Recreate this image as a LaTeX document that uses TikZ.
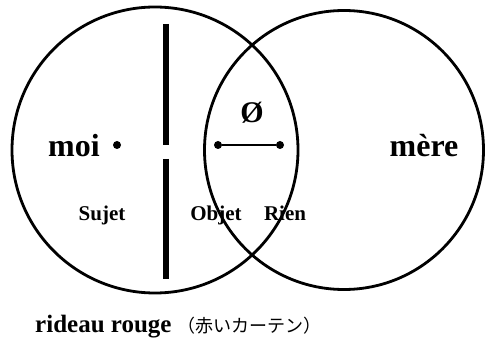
\documentclass[tikz,border=0pt]{standalone}
\usepackage{fontspec}
\setmainfont{Liberation Serif}
\newfontfamily\jpfont{Noto Sans CJK JP}
\usetikzlibrary{positioning}

\begin{document}
\begin{tikzpicture}[x=1pt,y=-1pt,
  ring/.style={line width=2.8pt},
  curtain/.style={line width=6pt},
  dot/.style={circle,fill,inner sep=0pt,minimum size=8pt},
  big/.style={font=\bfseries\fontsize{32}{32}\selectfont,inner sep=0pt,anchor=base},
  small/.style={font=\bfseries\fontsize{21}{21}\selectfont,inner sep=0pt,anchor=base}]
  \useasboundingbox (0,0) rectangle (485,339);
  \fill[white] (0,0) rectangle (485,339);

  % deux cercles
  \draw[ring] (155,150) circle[radius=143];
  \draw[ring] (344,150) circle[radius=139.5];

  % rideau
  \coordinate (r1) at (166,24);
  \coordinate (r2) at (166,145);
  \coordinate (r3) at (166,159);
  \coordinate (r4) at (166,279);
  \draw[curtain] (r1) -- (r2);
  \draw[curtain] (r3) -- (r4);

  % points
  \node[dot] (moidot) at (117,145) {};
  \node[dot] (objdot) at (218,145) {};
  \node[dot] (riendot) at (280,145) {};
  \draw[line width=1.5pt] (objdot) -- (riendot);

  % textes
  \node[big] (moi) at (74,157) {moi};
  \node[big] (mere) at (424,157) {mère};
  \node[big,font=\bfseries\fontsize{30}{30}\selectfont] (vide) at (252,123) {Ø};
  \node[small] (sujet) at (102,221) {Sujet};
  \node[small] (objet) at (216,221) {Objet};
  \node[small] (rien) at (285,221) {Rien};
  \node[big,font=\bfseries\fontsize{25}{25}\selectfont,anchor=base west] (rideau) at (35,333) {rideau rouge};
  \node[inner sep=0pt,anchor=base west,font=\jpfont\fontsize{18}{18}\selectfont] (jp)
    at ([xshift=6pt]rideau.base east) {（赤いカーテン）};
\end{tikzpicture}
\end{document}
